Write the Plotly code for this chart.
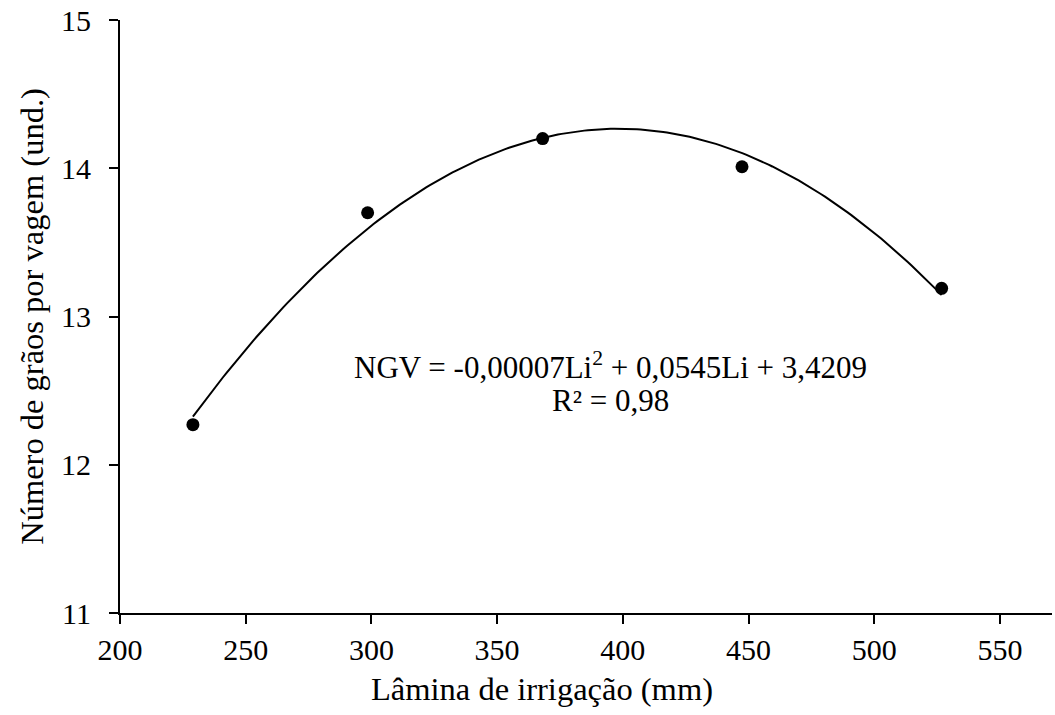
import numpy as np
import plotly.graph_objects as go

# Data
lamina = [229.0, 298.5, 368.1, 447.4, 526.8]          # Lâmina de irrigação (mm)
graos = [12.27, 13.70, 14.20, 14.01, 13.19]           # Número de grãos por vagem (und.)
x_ticks = [200, 250, 300, 350, 400, 450, 500, 550]
y_ticks = [11, 12, 13, 14, 15]

FONT = "Liberation Serif"

# Quadratic trend line fitted to the data
coef = np.polyfit(lamina, graos, 2)
xs = np.linspace(min(lamina), max(lamina), 200)
ys = np.polyval(coef, xs)

fig = go.Figure()
fig.add_trace(go.Scatter(x=xs, y=ys, mode="lines",
                         line=dict(color="black", width=2), hoverinfo="skip",
                         showlegend=False))
fig.add_trace(go.Scatter(x=lamina, y=graos, mode="markers",
                         marker=dict(color="black", size=13),
                         showlegend=False))

fig.add_annotation(x=395, y=12.668, xref="x", yref="y",
                   text="NGV = -0,00007Li<sup>2</sup> + 0,0545Li + 3,4209",
                   showarrow=False, font=dict(family=FONT, size=31, color="black"))
fig.add_annotation(x=395, y=12.432, xref="x", yref="y",
                   text="R² = 0,98",
                   showarrow=False, font=dict(family=FONT, size=31, color="black"))

# x-axis title (placed as in the reference, slightly left of centre)
fig.add_annotation(x=368, y=-0.128, xref="x", yref="paper",
                   text="Lâmina de irrigação (mm)", showarrow=False,
                   xanchor="center", yanchor="middle",
                   font=dict(family=FONT, size=32.5, color="black"))

fig.update_layout(
    width=1055, height=715,
    margin=dict(l=120, r=3, t=20, b=102),
    paper_bgcolor="white", plot_bgcolor="white",
    font=dict(family=FONT, color="black", size=30),
    xaxis=dict(range=[200, 570.7], tickvals=x_ticks, ticks="outside", ticklen=9,
               tickwidth=2, tickcolor="black", showline=True, linecolor="black",
               linewidth=2, showgrid=False, zeroline=False,
               tickfont=dict(family=FONT, size=30, color="black"),
               ticklabelstandoff=0),
    yaxis=dict(range=[11, 15], tickvals=y_ticks, ticks="outside", ticklen=9,
               tickwidth=2, tickcolor="black", showline=True, linecolor="black",
               linewidth=2, showgrid=False, zeroline=False,
               tickfont=dict(family=FONT, size=30, color="black"),
               ticklabelstandoff=12,
               title=dict(text="Número de grãos por vagem (und.)", standoff=8,
                          font=dict(family=FONT, size=32.5, color="black"))),
)

fig.write_html("out.html")
